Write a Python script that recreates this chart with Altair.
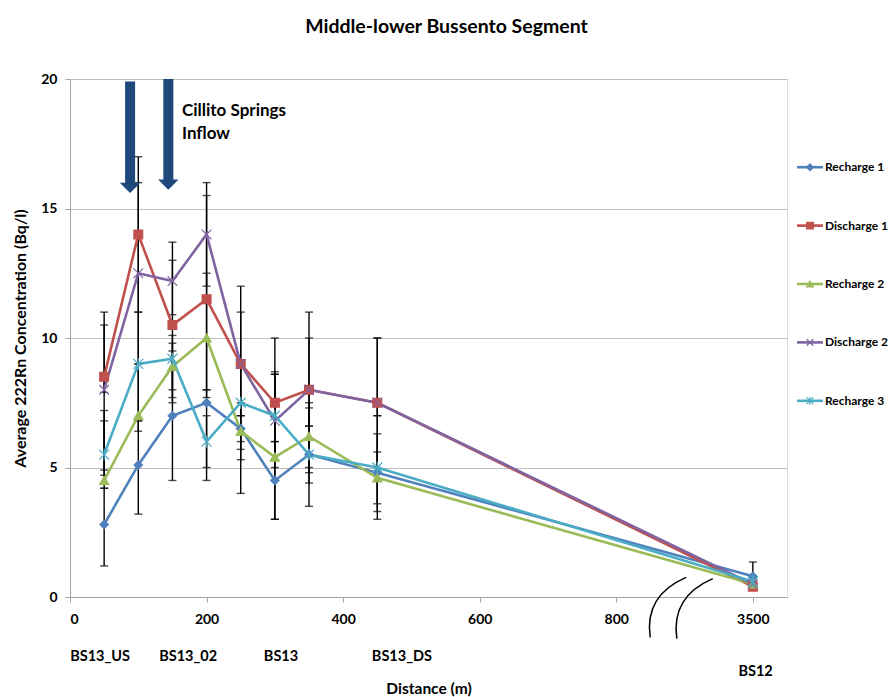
import altair as alt
import pandas as pd

# ---------------- data ----------------
series = ["Recharge 1", "Discharge 1", "Recharge 2", "Discharge 2", "Recharge 3"]
colors = ["#4F81BD", "#C0504D", "#9BBB59", "#8064A2", "#4BACC6"]
shapes = ["diamond", "square", "triangle-up",
          "M-1,-1L1,1M1,-1L-1,1",
          "M-1,-1L1,1M1,-1L-1,1M0,-1.2L0,1.2"]
sizes = [70, 100, 90, 70, 80]

# plotted distance (the last station, 3500 m, is drawn at 1000 on the broken axis)
distance = [50, 100, 150, 200, 250, 300, 350, 450, 1000]

values = {
    "Recharge 1":  [2.8, 5.1, 7.0, 7.5, 6.5, 4.5, 5.5, 4.8, 0.8],
    "Discharge 1": [8.5, 14.0, 10.5, 11.5, 9.0, 7.5, 8.0, 7.5, 0.4],
    "Recharge 2":  [4.5, 7.0, 8.9, 10.0, 6.4, 5.4, 6.2, 4.6, 0.5],
    "Discharge 2": [8.0, 12.5, 12.2, 14.0, 9.0, 6.8, 8.0, 7.5, 0.5],
    "Recharge 3":  [5.5, 9.0, 9.2, 6.0, 7.5, 7.0, 5.5, 5.0, 0.6],
}
err_low = {
    "Recharge 1":  [1.2, 3.2, 4.5, 4.5, 4.0, 3.0, 4.8, 3.0, 0.3],
    "Discharge 1": [7.9, 11.0, 8.0, 8.0, 6.0, 5.0, 5.0, 5.0, 0.3],
    "Recharge 2":  [4.2, 6.4, 7.7, 7.7, 5.3, 3.0, 4.4, 3.3, 0.4],
    "Discharge 2": [4.9, 9.0, 10.9, 12.0, 7.0, 5.3, 6.6, 7.0, 0.4],
    "Recharge 3":  [4.7, 6.8, 7.5, 5.0, 5.7, 6.0, 3.5, 3.6, 0.5],
}
err_high = {
    "Recharge 1":  [4.2, 6.8, 9.5, 8.0, 7.0, 6.0, 6.6, 7.0, 1.35],
    "Discharge 1": [11.0, 17.0, 13.0, 15.5, 12.0, 10.0, 11.0, 10.0, 0.5],
    "Recharge 2":  [7.2, 9.0, 10.1, 12.5, 7.5, 8.6, 7.5, 5.6, 0.6],
    "Discharge 2": [10.5, 16.0, 13.7, 16.0, 11.0, 8.7, 10.0, 10.0, 0.6],
    "Recharge 3":  [6.8, 11.0, 9.8, 7.0, 9.0, 8.6, 7.3, 6.3, 0.7],
}

x_ticks = [0, 200, 400, 600, 800, 1000]
y_ticks = [0, 5, 10, 15, 20]

site_names = ["BS13_US", "BS13_02", "BS13", "BS13_DS", "BS12"]
site_x = [44, 173, 309, 486, 1004]
site_row = [0, 0, 0, 0, 1]

arrow_x = [88, 144]
arrow_top = [19.9, 20.0]
arrow_tip = [15.8, 15.92]
note_lines = ["Cillito Springs", "Inflow"]
note_x = [164, 164]
note_y = [18.75, 17.88]

break_x = [876, 915]
break_y = [-0.4, -0.45]

FONT = "Lato"

# ---------------- tables ----------------
rows, caps = [], []
for s in series:
    for i, d in enumerate(distance):
        rows.append({"series": s, "order": series.index(s), "x": d,
                     "y": values[s][i], "lo": err_low[s][i], "hi": err_high[s][i]})
        caps.append({"series": s, "x": d, "c": err_low[s][i]})
        caps.append({"series": s, "x": d, "c": err_high[s][i]})
df = pd.DataFrame(rows)
caps_df = pd.DataFrame(caps)

W, H = 717, 518
xscale = alt.Scale(domain=[0, 1050], nice=False, zero=True)
yscale = alt.Scale(domain=[0, 20], nice=False)
cscale = alt.Scale(domain=series, range=colors)
sscale = alt.Scale(domain=series, range=shapes)

xaxis = alt.Axis(values=x_ticks, grid=False, title="Distance (m)",
                 labelExpr="datum.value == 1000 ? '3500' : datum.label",
                 labelFont=FONT, labelFontWeight="bold", labelFontSize=14,
                 labelPadding=10, tickSize=5, titleFont=FONT, titleFontWeight="bold",
                 titleFontSize=15.5, titlePadding=55, domainColor="#A6A6A6",
                 tickColor="#A6A6A6", labelColor="black", titleColor="black")
yaxis = alt.Axis(values=y_ticks, grid=True, gridColor="#BFBFBF",
                 title="Average 222Rn Concentration (Bq/l)",
                 labelFont=FONT, labelFontWeight="bold", labelFontSize=14,
                 labelPadding=8, tickSize=5, titleFont=FONT, titleFontWeight="bold",
                 titleFontSize=16, titlePadding=12, domainColor="#A6A6A6",
                 tickColor="#A6A6A6", labelColor="black", titleColor="black")

base = alt.Chart(df)

err_rules = base.mark_rule(color="black", strokeWidth=1.4).encode(
    x=alt.X("x:Q", scale=xscale, axis=xaxis),
    y=alt.Y("lo:Q", scale=yscale, axis=yaxis),
    y2="hi:Q",
)
err_caps = alt.Chart(caps_df).mark_tick(color="black", orient="horizontal",
                                        size=8, thickness=1.4).encode(
    x=alt.X("x:Q", scale=xscale),
    y=alt.Y("c:Q", scale=yscale),
)
lines = base.mark_line(strokeWidth=2.6).encode(
    x=alt.X("x:Q", scale=xscale),
    y=alt.Y("y:Q", scale=yscale),
    color=alt.Color("series:N", scale=cscale, legend=None),
    detail="series:N",
    order="x:Q",
)
points = base.mark_point(filled=True, strokeWidth=1.2, opacity=1).encode(
    x=alt.X("x:Q", scale=xscale),
    y=alt.Y("y:Q", scale=yscale),
    color=alt.Color("series:N", scale=cscale, legend=None),
    stroke=alt.Stroke("series:N", scale=cscale, legend=None),
    shape=alt.Shape("series:N", scale=sscale, legend=None),
    size=alt.Size("series:N", scale=alt.Scale(domain=series, range=sizes), legend=None),
)

arrow_df = pd.DataFrame({"x": arrow_x, "top": arrow_top, "tip": arrow_tip})
shafts = alt.Chart(arrow_df).mark_rule(color="#1F497D", strokeWidth=10,
                                       strokeCap="butt").encode(
    x=alt.X("x:Q", scale=xscale), y=alt.Y("top:Q", scale=yscale), y2="tip:Q")
heads = alt.Chart(arrow_df).mark_point(
    filled=True, color="#1F497D", opacity=1,
    shape="M-1,-0.5L1,-0.5L0,0.5Z", size=420).encode(
    x=alt.X("x:Q", scale=xscale), y=alt.Y("tip:Q", scale=yscale))

note_df = pd.DataFrame({"t": note_lines, "x": note_x, "y": note_y})
note = alt.Chart(note_df).mark_text(align="left", baseline="middle", font=FONT,
                                    fontWeight="bold", fontSize=17,
                                    color="black").encode(
    x=alt.X("x:Q", scale=xscale), y=alt.Y("y:Q", scale=yscale), text="t:N")

site_df = pd.DataFrame({"t": site_names, "x": site_x, "row": site_row})
sites_top = alt.Chart(site_df).transform_filter("datum.row == 0").mark_text(
    font=FONT, fontWeight="bold", fontSize=14.5, color="black",
    baseline="middle").encode(x=alt.X("x:Q", scale=xscale), y=alt.value(H + 60),
                              text="t:N")
sites_bot = alt.Chart(site_df).transform_filter("datum.row == 1").mark_text(
    font=FONT, fontWeight="bold", fontSize=14.5, color="black",
    baseline="middle").encode(x=alt.X("x:Q", scale=xscale), y=alt.value(H + 75),
                              text="t:N")

break_df = pd.DataFrame({"x": break_x, "y": break_y})
breaks = alt.Chart(break_df).mark_point(
    shape="M0.6,-1Q-0.8,-0.4-0.6,1", size=3600, filled=False,
    color="black", strokeWidth=1.5, opacity=1).encode(
    x=alt.X("x:Q", scale=xscale), y=alt.Y("y:Q", scale=yscale))

main = alt.layer(err_rules, err_caps, lines, points, shafts, heads, note,
                 sites_top, sites_bot, breaks)

# legend built from the series list
leg_df = pd.DataFrame({"series": series})
leg_y = alt.Y("series:N", scale=alt.Scale(domain=series, type="point",
                                          range=[59, 351]), axis=None)
leg_line = alt.Chart(leg_df).mark_rule(strokeWidth=2.6).encode(
    x=alt.value(W + 10), x2=alt.value(W + 36), y=leg_y,
    color=alt.Color("series:N", scale=cscale, legend=None))
leg_pt = alt.Chart(leg_df).mark_point(filled=True, strokeWidth=1.2, opacity=1).encode(
    x=alt.value(W + 23), y=leg_y,
    color=alt.Color("series:N", scale=cscale, legend=None),
    stroke=alt.Stroke("series:N", scale=cscale, legend=None),
    shape=alt.Shape("series:N", scale=sscale, legend=None),
    size=alt.value(45))
leg_txt = alt.Chart(leg_df).mark_text(align="left", baseline="middle", font=FONT,
                                      fontWeight="bold", fontSize=12,
                                      color="black").encode(
    x=alt.value(W + 38), y=leg_y, text="series:N")
legend = alt.layer(leg_line, leg_pt, leg_txt)

chart = alt.layer(main, legend).resolve_scale(y="independent").properties(
    width=W, height=H,
    title=alt.TitleParams("Middle-lower Bussento Segment", font=FONT,
                          fontWeight="bold", fontSize=19.5, offset=35, dx=18,
                          color="black"),
    autosize=alt.AutoSizeParams(type="none"),
    padding={"left": 70, "top": 79, "right": 101, "bottom": 100},
).configure_view(stroke=None).configure(background="white")

chart.save("out.html", embed_options={"renderer": "svg", "actions": False})
